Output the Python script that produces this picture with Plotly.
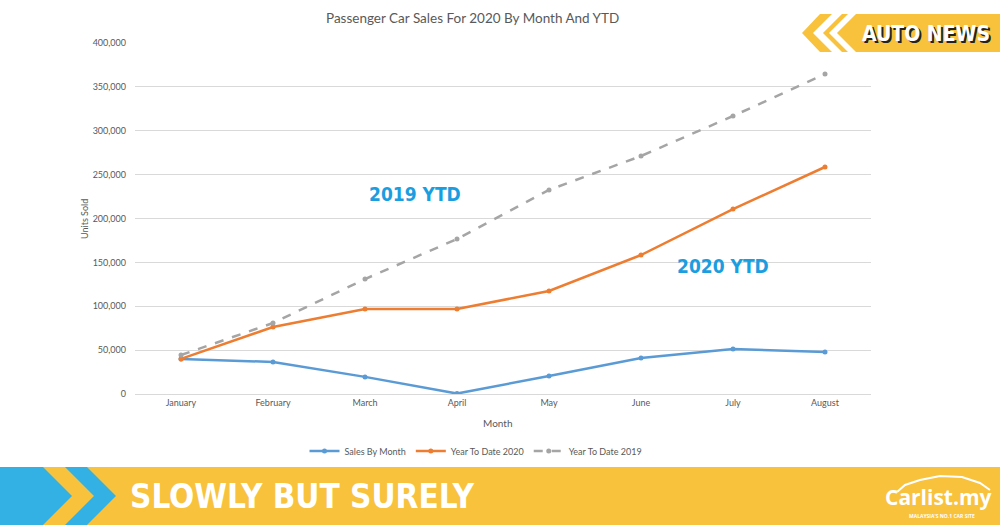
import plotly.graph_objects as go

# ---- data ----
months = ["January", "February", "March", "April", "May", "June", "July", "August"]
sales_by_month = [40000, 36500, 19500, 500, 20500, 41000, 51300, 47900]
ytd_2020 = [40000, 76400, 96900, 96900, 117400, 158400, 210800, 258700]
ytd_2019 = [44400, 80900, 131000, 176600, 232500, 271200, 316800, 364700]
y_ticks = [0, 50000, 100000, 150000, 200000, 250000, 300000, 350000, 400000]
y_tick_text = ["0", "50,000", "100,000", "150,000", "200,000", "250,000", "300,000", "350,000", "400,000"]

W, H = 1000, 525
L, R, T, B = 135, 129, 43, 131
PW, PH = W - L - R, H - T - B


def px(x, y):
    return (x - L) / PW, (H - B - y) / PH


def path(points, close=True):
    s = ""
    for i, (x, y) in enumerate(points):
        xp, yp = px(x, y)
        s += ("M" if i == 0 else "L") + f"{xp:.5f},{yp:.5f} "
    return s + ("Z" if close else "")


GRAY_TXT = "#595959"
FONT = "Lato"
COND = "DejaVu Sans Condensed, Liberation Sans Narrow, sans-serif"

fig = go.Figure()
fig.add_trace(go.Scatter(x=months, y=sales_by_month, name="Sales By Month", mode="lines+markers",
                         line=dict(color="#5b9bd5", width=2.5), marker=dict(size=5, color="#5b9bd5")))
fig.add_trace(go.Scatter(x=months, y=ytd_2020, name="Year To Date 2020", mode="lines+markers",
                         line=dict(color="#ed7d31", width=2.5), marker=dict(size=5, color="#ed7d31")))
fig.add_trace(go.Scatter(x=months, y=ytd_2019, name="Year To Date 2019", mode="lines+markers",
                         line=dict(color="#a5a5a5", width=2.5, dash="dash"), marker=dict(size=5, color="#a5a5a5")))

shapes = []
# bottom banner
x0, y0 = px(0, 467)
x1, y1 = px(1000, 525)
shapes.append(dict(type="rect", xref="paper", yref="paper", x0=x0, y0=y0, x1=x1, y1=y1,
                   fillcolor="#f8c23c", line=dict(width=0), layer="above"))
shapes.append(dict(type="path", xref="paper", yref="paper",
                   path=path([(0, 467), (43, 467), (72, 496), (43, 525), (0, 525)]),
                   fillcolor="#33b1e4", line=dict(width=0), layer="above"))
shapes.append(dict(type="path", xref="paper", yref="paper",
                   path=path([(65, 467), (87, 467), (116, 496), (87, 525), (65, 525), (94, 496)]),
                   fillcolor="#33b1e4", line=dict(width=0), layer="above"))
# top-right AUTO NEWS badge
shapes.append(dict(type="path", xref="paper", yref="paper",
                   path=path([(820, 14), (1000, 14), (1000, 52), (820, 52), (802, 33)]),
                   fillcolor="#f8c23c", line=dict(width=0), layer="above"))
shapes.append(dict(type="path", xref="paper", yref="paper",
                   path=path([(832, 14), (842, 14), (823, 33), (842, 52), (832, 52), (813, 33)]),
                   fillcolor="#ffffff", line=dict(width=0), layer="above"))
shapes.append(dict(type="path", xref="paper", yref="paper",
                   path=path([(848, 14), (856, 14), (837, 33), (856, 52), (848, 52), (829, 33)]),
                   fillcolor="#ffffff", line=dict(width=0), layer="above"))
# carlist car outline
car = [(897, 492), (905, 485), (920, 480), (940, 476), (962, 477), (980, 483), (990, 490)]
shapes.append(dict(type="path", xref="paper", yref="paper", path=path(car, close=False),
                   line=dict(color="#ffffff", width=2), layer="above"))

annotations = []


def ann(text, x, y, size, color, family=FONT, angle=0, bold=False, xanchor="center", shadow=None):
    xp, yp = px(x, y)
    d = dict(text=("<b>%s</b>" % text) if bold else text, xref="paper", yref="paper", x=xp, y=yp,
             showarrow=False, xanchor=xanchor, yanchor="middle", textangle=angle,
             font=dict(size=size, color=color, family=family))
    if shadow:
        d["font"]["shadow"] = shadow
    annotations.append(d)


ann("Passenger Car Sales For 2020 By Month And YTD", 472, 18, 13.5, GRAY_TXT)
ann("Units Sold", 85, 219, 9, GRAY_TXT, angle=-90)
ann("Month", 497, 423, 10, GRAY_TXT)
ann("2019 YTD", 415, 194, 19, "#1b9ee0", family=COND, bold=True)
ann("2020 YTD", 723, 266, 19, "#1b9ee0", family=COND, bold=True)
ann("SLOWLY BUT SURELY", 302, 496, 33, "#ffffff", family=COND, bold=True)
ann("AUTO NEWS", 926, 34, 21, "#ffffff", family=COND, bold=True,
    shadow="2px 2px 0px #222")
ann("Carlist.my", 938, 497, 21, "#ffffff", family="Open Sans", bold=True)
ann("MALAYSIA'S NO.1 CAR SITE", 942, 516, 5, "#ffffff", family="Open Sans", bold=True)

fig.update_layout(
    width=W, height=H,
    margin=dict(l=L, r=R, t=T, b=B, autoexpand=False),
    paper_bgcolor="#ffffff", plot_bgcolor="#ffffff",
    font=dict(family=FONT, color=GRAY_TXT, size=9),
    xaxis=dict(range=[-0.5, 7.5], showgrid=False, showline=True, linecolor="#d9d9d9", linewidth=1,
               ticks="", tickfont=dict(size=9, color=GRAY_TXT), zeroline=False, fixedrange=True),
    yaxis=dict(range=[0, 400000], tickvals=y_ticks, ticktext=y_tick_text, showgrid=True,
               gridcolor="#d9d9d9", gridwidth=1, zeroline=False, showline=False, ticks="",
               tickfont=dict(size=9, color=GRAY_TXT), ticklabelstandoff=8),
    legend=dict(orientation="h", x=px(476, 0)[0], xanchor="center", y=px(0, 451)[1], yanchor="middle",
                font=dict(size=9, color=GRAY_TXT), bgcolor="rgba(0,0,0,0)", itemwidth=30),
    showlegend=True,
    shapes=shapes,
    annotations=annotations,
)

fig.write_html("out.html", config={"displayModeBar": False},
               post_script="document.body.style.margin='0';document.body.style.overflow='hidden';")
